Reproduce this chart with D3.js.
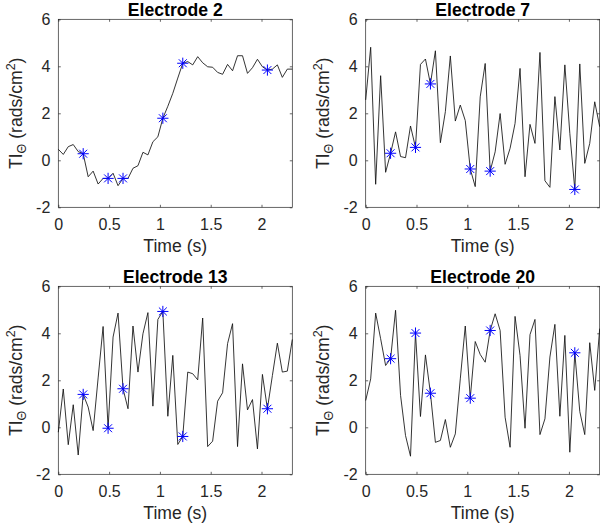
<!DOCTYPE html>
<html><head><meta charset="utf-8">
<script src="https://cdn.jsdelivr.net/npm/d3@7"></script>
<style>
body{margin:0;background:#fff}
svg{display:block}
text{font-family:"Liberation Sans",Arial,Helvetica,sans-serif}
</style>
</head><body>
<svg id="c" width="600" height="526"></svg>
<script>
// ---- data ----
const time = [0,0.049,0.098,0.147,0.196,0.245,0.294,0.343,0.392,0.441,0.49,0.539,0.588,0.637,0.686,0.735,0.784,0.833,0.882,0.931,0.98,1.029,1.078,1.127,1.176,1.225,1.274,1.323,1.372,1.421,1.47,1.519,1.568,1.617,1.666,1.715,1.764,1.813,1.862,1.911,1.96,2.009,2.058,2.107,2.156,2.205,2.254,2.303];
const titles = ["Electrode 2","Electrode 7","Electrode 13","Electrode 20"];
const e2  = [0.47,0.25,0.58,0.67,0.37,0.28,-0.70,-0.46,-1.01,-0.77,-0.77,-0.55,-1.08,-0.77,-0.77,-0.34,-0.23,0.34,0.23,0.79,1.0,1.79,2.3,2.85,3.5,4.13,4.2,4.06,4.41,4.15,3.98,3.96,3.74,3.66,4.08,3.81,4.45,4.45,3.70,3.94,4.30,3.98,3.84,3.88,4.06,3.53,3.88,3.88];
const e7  = [2.57,4.81,-1.02,3.60,-0.51,0.30,1.21,0.16,0.11,1.46,0.55,4.08,4.31,3.25,4.66,0.75,2.07,4.44,1.67,2.35,1.69,-0.37,-1.12,2.7,4.12,-0.46,0.36,1.99,-0.17,0.51,1.57,3.91,-0.70,1.53,0.72,4.59,-0.87,-1.15,2.71,0.44,4.06,1.15,-1.24,4.10,-0.13,0.72,2.49,1.43];
const e13 = [-0.21,1.63,-0.74,0.96,-1.18,1.40,0.86,-0.14,2.1,4.29,-0.04,3.84,4.86,1.64,0.79,4.31,2.35,3.98,4.88,0.90,4.59,4.93,0.47,3.06,-0.73,-0.39,2.35,2.28,2.02,4.65,-0.82,-0.59,1.11,1.47,3.56,4.41,-0.82,2.70,0.74,1.18,-0.92,2.25,0.79,2.2,3.58,2.35,2.39,3.74];
const e20 = [1.14,2.06,4.86,3.77,2.63,2.92,4.98,1.36,-0.35,-1.23,4.01,0.46,3.08,1.45,-0.64,-0.56,0.33,-0.85,-0.28,2.06,4.31,1.24,3.65,3.1,2.77,4.12,4.83,4.12,0.43,-0.85,4.72,3.06,-0.04,3.94,4.59,-0.31,0.36,2.99,4.38,0.47,3.91,-1.06,3.17,0.67,-0.31,3.60,1.57,4.2];
const markerIdx = [5,10,13,21,25,42];
const xTicks = [0,0.5,1,1.5,2];
const xTickLabels = ["0","0.5","1","1.5","2"];
const yTicks = [-2,0,2,4,6];
const yTickLabels = ["-2","0","2","4","6"];
const yDomain = [-2,6];

const series = [e2,e7,e13,e20];

// ---- layout ----
const panels = [{x:58.3,y:19.3},{x:365.7,y:19.3},{x:58.3,y:286.3},{x:365.7,y:286.3}];
const W = 234, H = 188;
const axisColor = "#262626";
const svg = d3.select("#c");

series.forEach((vals, k) => {
  const p = panels[k];
  const g = svg.append("g").attr("transform", `translate(${p.x},${p.y})`);
  const x = d3.scaleLinear().domain([time[0], time[time.length-1]]).range([0, W]);
  const y = d3.scaleLinear().domain(yDomain).range([H, 0]);

  // box
  g.append("rect").attr("x",0).attr("y",0).attr("width",W).attr("height",H)
    .attr("fill","#fff").attr("stroke",axisColor).attr("stroke-width",0.7);

  const styleAxis = sel => {
    sel.select(".domain").remove();
    sel.selectAll("line").attr("stroke",axisColor).attr("stroke-width",0.7);
    sel.selectAll("text").attr("fill",axisColor)
      .style("font-family",'"Liberation Sans",Arial,Helvetica,sans-serif')
      .style("font-size","16px");
  };

  g.append("g").attr("transform",`translate(0,${H})`)
    .call(d3.axisBottom(x).tickValues(xTicks).tickFormat((d,i)=>xTickLabels[i]).tickSizeInner(-2.5).tickSizeOuter(0).tickPadding(11))
    .call(styleAxis);
  g.append("g")
    .call(d3.axisTop(x).tickValues(xTicks).tickFormat("").tickSizeInner(-2.5).tickSizeOuter(0))
    .call(styleAxis);
  g.append("g")
    .call(d3.axisLeft(y).tickValues(yTicks).tickFormat((d,i)=>yTickLabels[i]).tickSizeInner(-2.5).tickSizeOuter(0).tickPadding(8))
    .call(styleAxis);
  g.append("g").attr("transform",`translate(${W},0)`)
    .call(d3.axisRight(y).tickValues(yTicks).tickFormat("").tickSizeInner(-2.5).tickSizeOuter(0))
    .call(styleAxis);

  // line
  const pts = time.map((t,i)=>({t, v: vals[i]}));
  g.append("path").datum(pts)
    .attr("fill","none").attr("stroke","#111").attr("stroke-width",0.85)
    .attr("stroke-linejoin","round")
    .attr("d", d3.line().x(d=>x(d.t)).y(d=>y(d.v)));

  // asterisk markers
  const r = 5.6, rd = r*Math.SQRT1_2;
  const star = `M${-r},0L${r},0M0,${-r}L0,${r}M${-rd},${-rd}L${rd},${rd}M${-rd},${rd}L${rd},${-rd}`;
  g.selectAll("path.mk").data(markerIdx.map(i=>pts[i])).enter().append("path")
    .attr("class","mk")
    .attr("transform", d=>`translate(${x(d.t)},${y(d.v)})`)
    .attr("d", star).attr("fill","none").attr("stroke","#0000ff").attr("stroke-width",1);

  // title
  g.append("text").attr("x",W/2).attr("y",-3.6).attr("text-anchor","middle")
    .attr("font-weight","bold").attr("font-size","17.6px").attr("fill","#000")
    .text(titles[k]);

  // x label
  g.append("text").attr("x",W/2).attr("y",H+45).attr("text-anchor","middle")
    .attr("font-size","17.6px").attr("fill",axisColor).text("Time (s)");

  // y label
  const yl = g.append("text").attr("transform",`translate(-36.6,${H/2}) rotate(-90)`)
    .attr("text-anchor","middle").attr("font-size","17.6px").attr("fill",axisColor);
  yl.append("tspan").text("TI");
  yl.append("tspan").attr("font-size","12.5px").attr("dy","4").text("Θ");
  yl.append("tspan").attr("dy","-4").text(" (rads/cm");
  yl.append("tspan").attr("font-size","12.5px").attr("dy","-7").text("2");
  yl.append("tspan").attr("dy","7").text(")");
});
</script>
</body></html>
